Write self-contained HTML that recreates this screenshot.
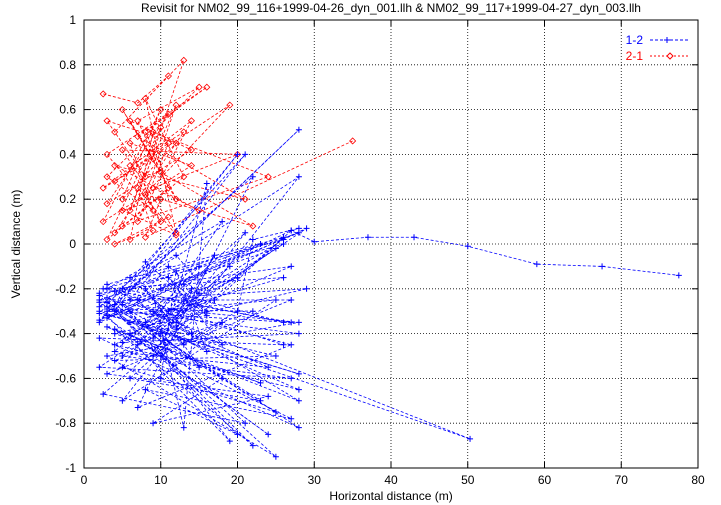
<!DOCTYPE html>
<html><head><meta charset="utf-8"><style>
html,body{margin:0;padding:0;background:#fff;}
svg{display:block;font-family:"Liberation Sans",sans-serif;}
</style></head><body>
<svg id="chart" width="721" height="505" viewBox="0 0 721 505" xmlns="http://www.w3.org/2000/svg">
<text x="391" y="12" font-size="12" text-anchor="middle">Revisit for NM02_99_116+1999-04-26_dyn_001.llh &amp; NM02_99_117+1999-04-27_dyn_003.llh</text>
<text x="391" y="500" font-size="12" text-anchor="middle">Horizontal distance (m)</text>
<text x="20" y="244" font-size="12" text-anchor="middle" transform="rotate(-90 20 244)">Vertical distance (m)</text>
<g id="grid"></g>
<g id="ticks"></g>
<g id="series"></g>
<rect x="84" y="20" width="614" height="448" fill="none" stroke="#000" stroke-width="1"/>
<g>
<text x="643" y="44" font-size="12" fill="#0000ff" text-anchor="end">1-2</text>
<line x1="650" y1="40" x2="690" y2="40" stroke="#0000ff" stroke-dasharray="3,2"/>
<path d="M667 37v6M664 40h6" stroke="#0000ff"/>
<text x="643" y="60" font-size="12" fill="#ff0000" text-anchor="end">2-1</text>
<line x1="650" y1="56" x2="690" y2="56" stroke="#ff0000" stroke-dasharray="2,2"/>
<path d="M670 53l3 3l-3 3l-3 -3z" fill="#fff" stroke="#ff0000"/>
</g>
</svg>
<script>
const xTicks=[0,10,20,30,40,50,60,70,80];
const yTicks=[-1,-0.8,-0.6,-0.4,-0.2,0,0.2,0.4,0.6,0.8,1];
const blueX=[2,28,3,27,2.5,26,4,28,3,25,5,27,2,29,3,24,6,27,2,22,4,28,3,26,2.5,21,5,28,3,25,4,20,2,27,6,23,3,28,2,26,4,19,3,25,5,28,2,22,7,27,3,24,4,21,12,50.3,2,28,6,26,3,18,5,25,2,29,4,23,3,27,8,20,2,26,5,28,3,22,4,25,2,21,6,27,3,24,9,18,4,28,2,23,5,26,10,15,8,17,12,6,14,9,18,11,16,7,13,19,10,15,8,12,17,9,14,11,20,6,16,12,10,18,13,7,11,15,9,13,16,8,13,16,10,20,22,28,27,30,37,43,50,59,67.5,77.5];
const blueY=[-0.25,0.05,-0.3,-0.35,-0.2,0.02,-0.45,-0.65,-0.28,-0.02,-0.5,-0.6,-0.55,0.07,-0.33,-0.85,-0.4,-0.1,-0.22,-0.9,-0.38,-0.7,-0.18,0.03,-0.67,-0.8,-0.27,-0.35,-0.5,-0.95,-0.3,0.4,-0.35,0.06,-0.6,-0.7,-0.26,-0.82,-0.42,-0.45,-0.21,-0.88,-0.32,-0.25,-0.7,0.3,-0.28,0.3,-0.73,-0.45,-0.24,-0.55,-0.48,0.05,-0.35,-0.87,-0.3,-0.58,-0.35,-0.15,-0.2,0.1,-0.55,-0.75,-0.26,-0.2,-0.4,-0.62,-0.37,-0.78,-0.65,-0.85,-0.23,0.0,-0.44,-0.4,-0.29,-0.3,-0.52,-0.5,-0.31,0.4,-0.25,-0.25,-0.58,-0.68,-0.8,-0.6,-0.27,0.51,-0.34,0.0,-0.2,-0.35,-0.2,-0.1,-0.35,-0.25,-0.05,-0.15,-0.4,-0.3,-0.45,-0.15,-0.3,-0.45,-0.25,-0.1,-0.4,-0.55,-0.2,-0.38,-0.05,-0.5,-0.2,-0.3,-0.15,-0.3,-0.48,-0.12,-0.6,-0.35,-0.45,-0.25,-0.1,-0.22,-0.42,-0.18,-0.32,-0.08,-0.82,0.27,-0.5,-0.3,0.02,0.07,0.06,0.01,0.03,0.03,-0.01,-0.09,-0.1,-0.14];
const redX=[2.5,7,11,4,13,8,3,12,5,10,2.5,14,6,9,3,15,7,11,4,13,6,10,3,16,8,12,5,9,2.5,14,7,11,4,19,6,10,3,13,8,12,5,20,9,15,4,21,7,11,3,14,6,10,22,8,12,5,24,9,6,11,4,9,7,12,5,10,8,35];
const redY=[0.67,0.63,0.75,0.5,0.82,0.3,0.55,0.45,0.2,0.6,0.1,0.35,0.45,0.15,0.3,0.7,0.55,0.25,0.05,0.5,0.35,0.1,0.4,0.7,0.5,0.2,0.6,0.38,0.25,0.55,0.1,0.45,0.28,0.62,0.15,0.52,0.02,0.3,0.65,0.05,0.42,0.4,0.25,0.15,0.35,0.2,0.48,0.58,0.18,0.42,0.55,0.32,0.08,0.22,0.62,0.08,0.3,0.5,0.02,0.12,0.0,0.06,0.25,0.04,0.15,0.2,0.03,0.46];
const NS="http://www.w3.org/2000/svg";
const L=84,R=698,T=20,B=468;
function sx(v){return L+(v-0)/(80-0)*(R-L);}
function sy(v){return B-(v+1)/2*(B-T);}
function mk(tag,attrs,parent){const e=document.createElementNS(NS,tag);for(const k in attrs)e.setAttribute(k,attrs[k]);parent.appendChild(e);return e;}
const grid=document.getElementById('grid'),ticks=document.getElementById('ticks'),series=document.getElementById('series');
xTicks.forEach(v=>{const x=sx(v);
 if(v>0&&v<80){const g=mk('line',{x1:x,x2:x,y1:T,y2:B,stroke:'#000','stroke-dasharray':'1,2','stroke-width':0.8},grid);
 
 }
 const t=mk('text',{x:x,y:B+16,'font-size':12,'text-anchor':'middle'},ticks);t.textContent=v;
 
 
 mk('line',{x1:x,x2:x,y1:B,y2:B-6,stroke:'#000'},ticks);mk('line',{x1:x,x2:x,y1:T,y2:T+6,stroke:'#000'},ticks);});
yTicks.forEach(v=>{const y=sy(v);
 if(v>-1&&v<1){const g=mk('line',{x1:L,x2:R,y1:y,y2:y,stroke:'#000','stroke-dasharray':'1,2','stroke-width':0.8},grid);
 
 }
 const t=mk('text',{x:L-8,y:y+4,'font-size':12,'text-anchor':'end'},ticks);t.textContent=(Math.round(v*10)/10).toString();
 
 
 mk('line',{x1:L,x2:L+6,y1:y,y2:y,stroke:'#000'},ticks);mk('line',{x1:R,x2:R-6,y1:y,y2:y,stroke:'#000'},ticks);});
function drawSeries(xs,ys,color,name,marker){
 const pts=xs.map((x,i)=>sx(x)+','+sy(ys[i])).join(' ');
 const pl=mk('polyline',{points:pts,fill:'none',stroke:color,'stroke-width':0.8,'stroke-dasharray':'3,2'},series);
 
 
 xs.forEach((x,i)=>{const px=sx(x),py=sy(ys[i]);let m;
  if(marker==='plus')m=mk('path',{d:`M${px-3} ${py}h6M${px} ${py-3}v6`,stroke:color,'stroke-width':1},series);
  else m=mk('path',{d:`M${px} ${py-3}l3 3l-3 3l-3 -3z`,fill:'none',stroke:color,'stroke-width':0.8},series);
  
  });
}
drawSeries(redX,redY,'#ff0000','series-2-1','diamond');
drawSeries(blueX,blueY,'#0000ff','series-1-2','plus');
</script>
</body></html>
